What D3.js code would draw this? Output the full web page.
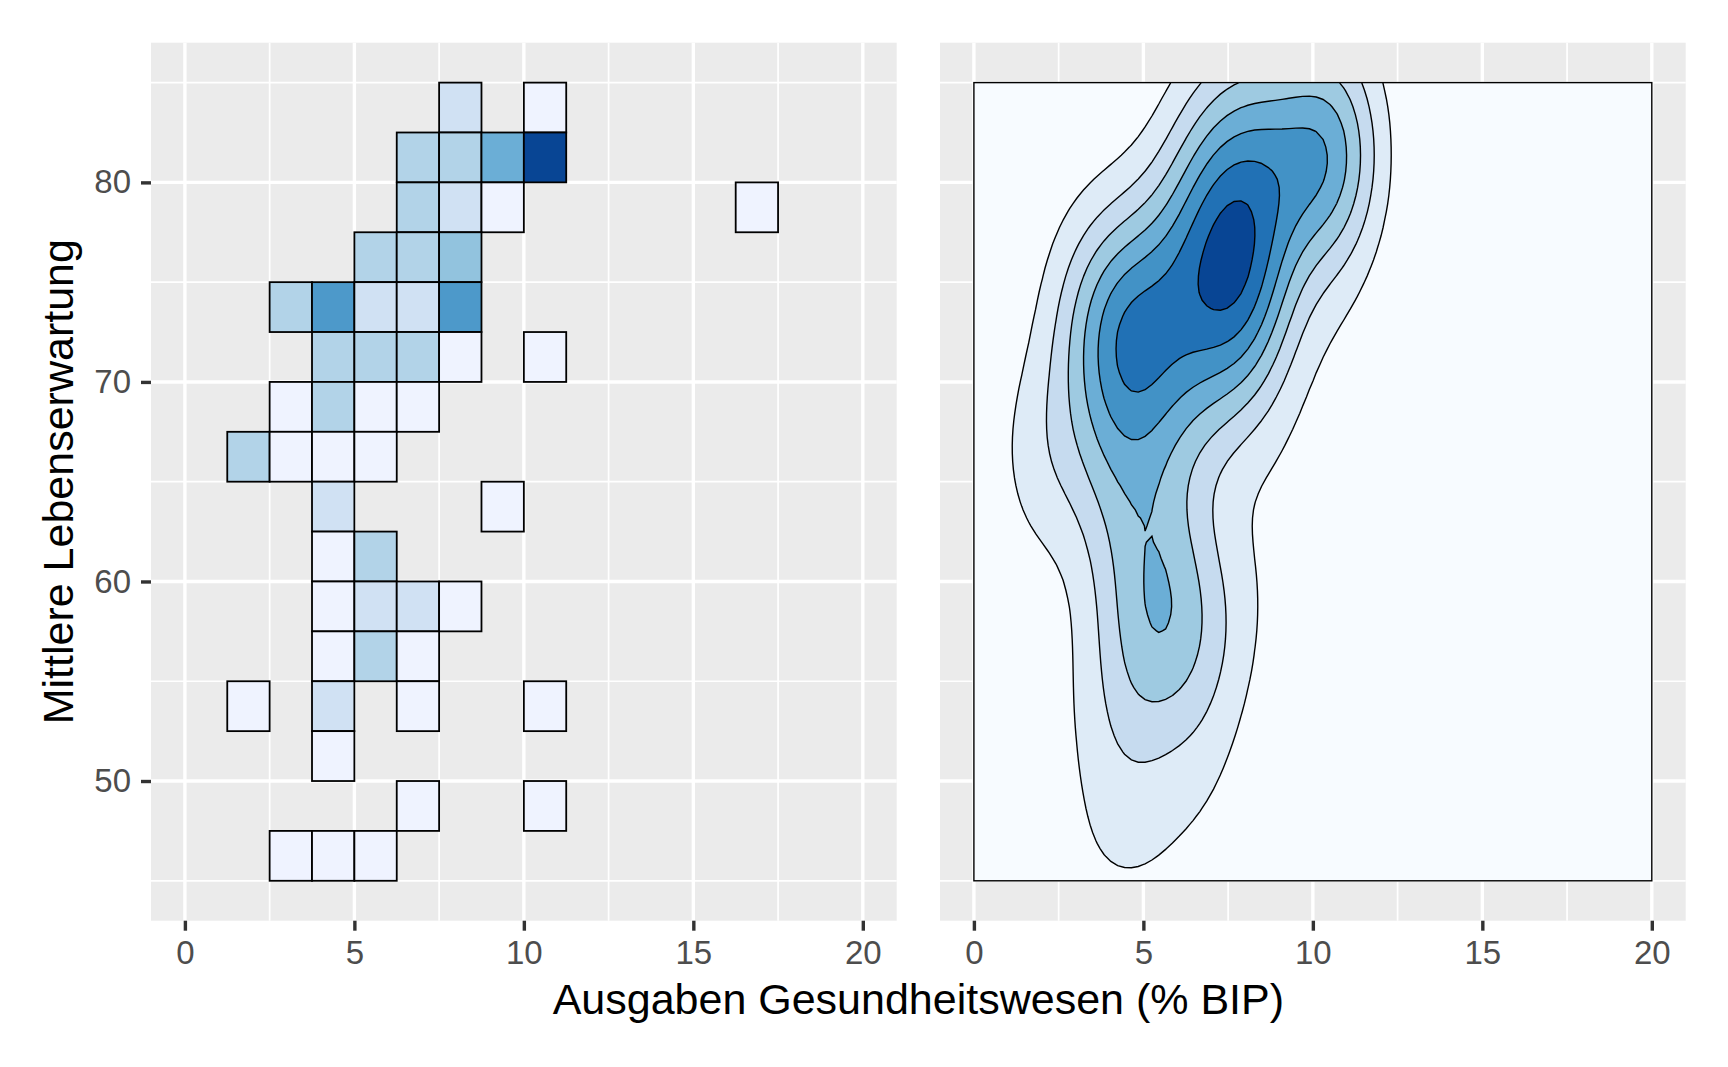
<!DOCTYPE html>
<html>
<head>
<meta charset="utf-8">
<script src="https://cdn.jsdelivr.net/npm/d3@7"></script>
<style>
    body { margin: 0; background: #ffffff; }
    text { font-family: "Liberation Sans", Arial, sans-serif; }
</style>
</head>
<body>
<div id="chart"></div>
<script>
//Data: 2d bins (left edge x, lower edge y, count)
var binW = 1.25, binH = 2.5;
var tileX = [7.5, 10,
    6.25, 7.5, 8.75, 10,
    6.25, 7.5, 8.75, 16.25,
    5, 6.25, 7.5,
    2.5, 3.75, 5, 6.25, 7.5,
    3.75, 5, 6.25, 7.5, 10,
    2.5, 3.75, 5, 6.25,
    1.25, 2.5, 3.75, 5,
    3.75, 8.75,
    3.75, 5,
    3.75, 5, 6.25, 7.5,
    3.75, 5, 6.25,
    1.25, 3.75, 6.25, 10,
    3.75,
    6.25, 10,
    2.5, 3.75, 5];
var tileY = [82.5, 82.5,
    80, 80, 80, 80,
    77.5, 77.5, 77.5, 77.5,
    75, 75, 75,
    72.5, 72.5, 72.5, 72.5, 72.5,
    70, 70, 70, 70, 70,
    67.5, 67.5, 67.5, 67.5,
    65, 65, 65, 65,
    62.5, 62.5,
    60, 60,
    57.5, 57.5, 57.5, 57.5,
    55, 55, 55,
    52.5, 52.5, 52.5, 52.5,
    50,
    47.5, 47.5,
    45, 45, 45];
var tileCount = [2, 1,
    3, 3, 5, 9,
    3, 2, 1, 1,
    3, 3, 4,
    3, 6, 2, 2, 6,
    3, 3, 3, 1, 1,
    1, 3, 1, 1,
    3, 1, 1, 1,
    2, 1,
    1, 3,
    1, 2, 2, 1,
    1, 3, 1,
    1, 2, 1, 1,
    1,
    1, 1,
    1, 1, 1];

var xTicks = [0, 5, 10, 15, 20];
var xMinor = [2.5, 7.5, 12.5, 17.5];
var yTicks = [50, 60, 70, 80];
var yMinor = [45, 55, 65, 75, 85];
var xLims = [0, 20], yLims = [45, 85];

var blues7 = ["#EFF3FF", "#C6DBEF", "#9ECAE1", "#6BAED6", "#4292C6", "#2171B5", "#084594"];
var blues8 = ["#F7FBFF", "#DEEBF7", "#C6DBEF", "#9ECAE1", "#6BAED6", "#4292C6", "#2171B5", "#084594"];

//Setup
var W = 1728, H = 1067;
var panelTop = 42.7, panelBottom = 920.7;
var panels = [{ x0: 151, x1: 896.7, yAxis: true }, { x0: 940, x1: 1685.7, yAxis: false }];

var y = d3.scaleLinear().domain([43, 87]).range([panelBottom, panelTop]);

var countMax = d3.max(tileCount), countMin = d3.min(tileCount);
var fillScale = d3.scaleLinear()
    .domain(d3.range(7).map(function (k) { return countMin + (countMax - countMin) * k / 6; }))
    .range(blues7)
    .interpolate(d3.interpolateLab);

var svg = d3.select("#chart")
    .append("svg")
    .attr("width", W)
    .attr("height", H);

svg.append("rect").attr("width", W).attr("height", H).attr("fill", "#ffffff");

function drawPanel(p) {
    var x = d3.scaleLinear().domain([-1, 21]).range([p.x0, p.x1]);
    var g = svg.append("g");
    g.append("rect")
        .attr("x", p.x0).attr("y", panelTop)
        .attr("width", p.x1 - p.x0).attr("height", panelBottom - panelTop)
        .attr("fill", "#EBEBEB");

    g.selectAll(".vminor").data(xMinor).enter().append("line")
        .attr("x1", d => x(d)).attr("x2", d => x(d))
        .attr("y1", panelTop).attr("y2", panelBottom)
        .attr("stroke", "#ffffff").attr("stroke-width", 1.7);
    g.selectAll(".hminor").data(yMinor).enter().append("line")
        .attr("x1", p.x0).attr("x2", p.x1)
        .attr("y1", d => y(d)).attr("y2", d => y(d))
        .attr("stroke", "#ffffff").attr("stroke-width", 1.7);
    g.selectAll(".vmajor").data(xTicks).enter().append("line")
        .attr("x1", d => x(d)).attr("x2", d => x(d))
        .attr("y1", panelTop).attr("y2", panelBottom)
        .attr("stroke", "#ffffff").attr("stroke-width", 3.4);
    g.selectAll(".hmajor").data(yTicks).enter().append("line")
        .attr("x1", p.x0).attr("x2", p.x1)
        .attr("y1", d => y(d)).attr("y2", d => y(d))
        .attr("stroke", "#ffffff").attr("stroke-width", 3.4);

    //axes
    var xAxis = g.append("g")
        .attr("transform", `translate(0, ${panelBottom})`)
        .call(d3.axisBottom(x).tickValues(xTicks).tickSize(10).tickPadding(9.5));
    styleAxis(xAxis);

    if (p.yAxis) {
        var yAxis = g.append("g")
            .attr("transform", `translate(${p.x0}, 0)`)
            .call(d3.axisLeft(y).tickValues(yTicks).tickSize(10).tickPadding(10));
        styleAxis(yAxis);
    }
    return { g: g, x: x };
}

function styleAxis(a) {
    a.select(".domain").remove();
    a.selectAll(".tick line").attr("stroke", "#333333").attr("stroke-width", 3.4);
    a.selectAll(".tick text")
        .attr("fill", "#4D4D4D")
        .style("font-size", "33px")
        .style("font-family", "'Liberation Sans', Arial, sans-serif");
}

//Left panel: tiles
var left = drawPanel(panels[0]);
left.g.selectAll(".tile").data(tileCount).enter().append("rect")
    .attr("x", (d, i) => left.x(tileX[i]))
    .attr("y", (d, i) => y(tileY[i] + binH))
    .attr("width", (d, i) => left.x(tileX[i] + binW) - left.x(tileX[i]))
    .attr("height", (d, i) => y(tileY[i]) - y(tileY[i] + binH))
    .attr("fill", d => fillScale(d))
    .attr("stroke", "#000000")
    .attr("stroke-width", 1.8);

//Right panel: 2d kernel density (kde2d style) of the same binned points
var right = drawPanel(panels[1]);

var ptsX = [], ptsY = [];
tileCount.forEach(function (n, i) {
    for (var k = 0; k < n; k++) {
        ptsX.push(tileX[i] + binW / 2);
        ptsY.push(tileY[i] + binH / 2);
    }
});

function bandwidthNrd(v) {
    var s = v.slice().sort(d3.ascending);
    var iqr = d3.quantile(s, 0.75) - d3.quantile(s, 0.25);
    return 4 * 1.06 * Math.min(d3.deviation(s), iqr / 1.34) * Math.pow(s.length, -0.2);
}

var hx = bandwidthNrd(ptsX) / 4, hy = bandwidthNrd(ptsY) / 4;
var nGrid = 100;
var gridX = d3.scaleLinear().domain([0, nGrid - 1]).range(xLims);
var gridY = d3.scaleLinear().domain([0, nGrid - 1]).range(yLims);
var dens = new Float64Array(nGrid * nGrid);
var nPts = ptsX.length;
for (var j = 0; j < nGrid; j++) {
    for (var i = 0; i < nGrid; i++) {
        var gx = gridX(i), gy = gridY(j), s = 0;
        for (var k = 0; k < nPts; k++) {
            var u = (gx - ptsX[k]) / hx, v = (gy - ptsY[k]) / hy;
            s += Math.exp(-0.5 * (u * u + v * v));
        }
        dens[j * nGrid + i] = s / (2 * Math.PI * nPts * hx * hy);
    }
}

var densMax = d3.max(dens);
var levels = d3.range(1, 8).map(k => k * densMax / 7.6);
var bands = d3.contours().size([nGrid, nGrid]).thresholds(levels)(dens);

var cellToX = d3.scaleLinear().domain([0.5, nGrid - 0.5]).range(xLims).clamp(true);
var cellToY = d3.scaleLinear().domain([0.5, nGrid - 0.5]).range(yLims).clamp(true);
var contourPath = d3.geoPath(d3.geoTransform({
    point: function (px, py) {
        this.stream.point(right.x(cellToX(px)), y(cellToY(py)));
    }
}));

right.g.append("rect")
    .attr("x", right.x(xLims[0])).attr("y", y(yLims[1]))
    .attr("width", right.x(xLims[1]) - right.x(xLims[0]))
    .attr("height", y(yLims[0]) - y(yLims[1]))
    .attr("fill", blues8[0])
    .attr("stroke", "#000000")
    .attr("stroke-width", 1.4);

right.g.selectAll(".band").data(bands).enter().append("path")
    .attr("d", contourPath)
    .attr("fill", (d, i) => blues8[i + 1])
    .attr("stroke", "#000000")
    .attr("stroke-width", 1.4);

//Titles
svg.append("text")
    .attr("x", (panels[0].x0 + panels[1].x1) / 2)
    .attr("y", 1014)
    .attr("text-anchor", "middle")
    .style("font-size", "43px")
    .attr("fill", "#000000")
    .text("Ausgaben Gesundheitswesen (% BIP)");

svg.append("text")
    .attr("transform", `translate(73, ${(panelTop + panelBottom) / 2}) rotate(-90)`)
    .attr("text-anchor", "middle")
    .style("font-size", "43px")
    .attr("fill", "#000000")
    .text("Mittlere Lebenserwartung");
</script>
</body>
</html>
